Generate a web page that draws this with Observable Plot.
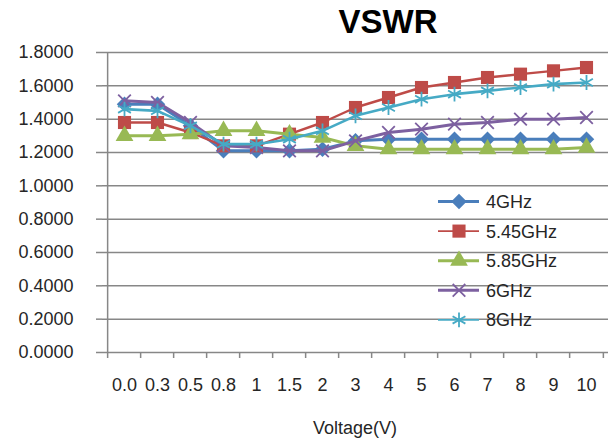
<!DOCTYPE html>
<html>
<head>
<meta charset="utf-8">
<script src="https://cdn.jsdelivr.net/npm/d3@7"></script>
<script src="https://cdn.jsdelivr.net/npm/@observablehq/plot@0.6"></script>
<style>
  html, body { margin: 0; padding: 0; background: #fff; }
  #chart { position: relative; width: 616px; height: 439px; }
</style>
</head>
<body>
<div id="chart"></div>
<script>
// ---- data ----
const voltages = ["0.0","0.3","0.5","0.8","1","1.5","2","3","4","5","6","7","8","9","10"];
const seriesNames = ["4GHz","5.45GHz","5.85GHz","6GHz","8GHz"];
const vswr4    = [1.49,1.49,1.36,1.21,1.21,1.21,1.22,1.27,1.28,1.28,1.28,1.28,1.28,1.28,1.28];
const vswr545  = [1.38,1.38,1.32,1.24,1.24,1.31,1.38,1.47,1.53,1.59,1.62,1.65,1.67,1.69,1.71];
const vswr585  = [1.30,1.30,1.31,1.33,1.33,1.31,1.29,1.24,1.22,1.22,1.22,1.22,1.22,1.22,1.23];
const vswr6    = [1.51,1.50,1.38,1.24,1.23,1.21,1.21,1.27,1.32,1.34,1.37,1.38,1.40,1.40,1.41];
const vswr8    = [1.46,1.45,1.36,1.25,1.25,1.28,1.33,1.42,1.47,1.52,1.55,1.57,1.59,1.61,1.62];
const yTicks   = [0,0.2,0.4,0.6,0.8,1.0,1.2,1.4,1.6,1.8];
const title = "VSWR";
const xLabel = "Voltage(V)";

// ---- styles ----
const colors  = ["#4A7EBB","#BE4B48","#98B954","#7D60A0","#46AAC5"];
const symbols = ["diamond2","square","triangle","times","asterisk"];
const filled  = [true,true,true,false,false];
const radii   = [7.0,7.4,6.6,5.8,7.0];
const lineW   = [3,2.4,3,3,2.6];
const values  = [vswr4, vswr545, vswr585, vswr6, vswr8];

const W = 616, H = 439, ML = 102, MR = 8, MT = 52, MB = 87;
const step = (W - ML - MR) / voltages.length;
const grey = "#878787";
const font = "'Liberation Sans', Arial, sans-serif";

const rows = [];
seriesNames.forEach((s, si) => voltages.forEach((v, i) => rows.push({series: s, si, v, y: values[si][i]})));

const marks = [
  Plot.gridY(yTicks.slice(1), {stroke: grey, strokeOpacity: 1, strokeWidth: 1.5}),
  Plot.ruleY([0], {stroke: grey, strokeWidth: 1.5}),
  Plot.ruleX([voltages[0]], {dx: -step / 2, y1: 0, y2: 1.8, stroke: grey, strokeWidth: 1.5}),
  Plot.axisY({ticks: yTicks, tickFormat: d3.format(".4f"), tickSize: 6, tickPadding: 23,
              stroke: grey, strokeWidth: 1.5, fontSize: 18, label: null}),
  Plot.axisX({tickSize: 0, tickPadding: 26, fontSize: 18, label: null}),
  Plot.axisX({ticks: voltages, tickSize: 6, tickFormat: () => "", dx: -step / 2,
              stroke: grey, strokeWidth: 1.5, label: null}),
  Plot.axisX({ticks: [voltages[voltages.length - 1]], tickSize: 6, tickFormat: () => "", dx: step / 2,
              stroke: grey, strokeWidth: 1.5, label: null})
];
seriesNames.forEach((s, si) => {
  const d = rows.filter(r => r.si === si);
  marks.push(Plot.line(d, {x: "v", y: "y", stroke: colors[si], strokeWidth: lineW[si]}));
  marks.push(Plot.dot(d, filled[si]
    ? {x: "v", y: "y", symbol: () => symbols[si], r: radii[si], fill: colors[si], stroke: "none"}
    : {x: "v", y: "y", symbol: () => symbols[si], r: radii[si], stroke: colors[si], strokeWidth: 1.8, fill: "none"}));
});

const chart = Plot.plot({
  width: W, height: H,
  marginLeft: ML, marginRight: MR, marginTop: MT, marginBottom: MB,
  style: {fontFamily: font, color: "#262626", background: "white"},
  x: {type: "point", domain: voltages, padding: 0.5},
  y: {domain: [0, 1.8]},
  symbol: {type: "identity"},
  marks
});
document.getElementById("chart").appendChild(chart);

// ---- overlay texts & legend ----
const svg = d3.select(chart);
svg.append("text").attr("x", 388).attr("y", 33).attr("text-anchor", "middle")
  .style("font", `bold 33px ${font}`).attr("fill", "#000").text(title);
svg.append("text").attr("x", 355).attr("y", 434).attr("text-anchor", "middle")
  .style("font", `18px ${font}`).attr("fill", "#262626").text(xLabel);

const symMap = {diamond2: d3.symbolDiamond2, square: d3.symbolSquare, triangle: d3.symbolTriangle,
                times: d3.symbolTimes, asterisk: d3.symbolAsterisk};
const lg = svg.append("g");
seriesNames.forEach((s, si) => {
  const cy = 201.5 + si * 29.6;
  const g = lg.append("g");
  g.append("line").attr("x1", 438).attr("x2", 479).attr("y1", cy).attr("y2", cy)
    .attr("stroke", colors[si]).attr("stroke-width", si === 1 || si === 4 ? 1.8 : lineW[si]);
  const path = d3.symbol(symMap[symbols[si]], Math.PI * radii[si] * radii[si])();
  const p = g.append("path").attr("d", path).attr("transform", `translate(459,${cy})`);
  if (filled[si]) p.attr("fill", colors[si]);
  else p.attr("fill", "none").attr("stroke", colors[si]).attr("stroke-width", 1.8);
  g.append("text").attr("x", 486).attr("y", cy + 6.5).attr("text-anchor", "start")
    .style("font", `18px ${font}`).attr("fill", "#262626").text(s);
});
</script>
</body>
</html>
